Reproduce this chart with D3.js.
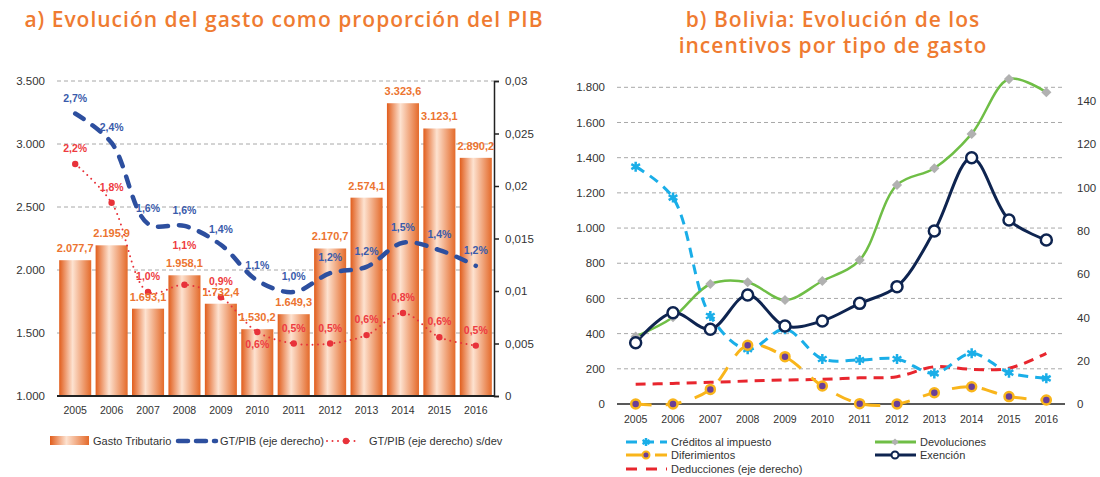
<!DOCTYPE html>
<html>
<head>
<meta charset="utf-8">
<title>Gasto tributario - Bolivia</title>
<script src="https://d3js.org/d3.v7.min.js"></script>
<style>
body { margin: 0; background: #fff; }
text { font-family: "Liberation Sans", Arial, sans-serif; }
.title { font-family: "Open Sans", sans-serif; font-weight: 600; fill: #ef7b31; letter-spacing: 1px; }
</style>
</head>
<body>
<svg id="chart" width="1100" height="477"></svg>
<script>
// ---- data (a) ----
var years = ["2005","2006","2007","2008","2009","2010","2011","2012","2013","2014","2015","2016"];
var gasto = [2077.7, 2195.9, 1693.1, 1958.1, 1732.4, 1530.2, 1649.3, 2170.7, 2574.1, 3323.6, 3123.1, 2890.2];
var gtPib = [0.0269, 0.0241, 0.0164, 0.0162, 0.0144, 0.0110, 0.0099, 0.0117, 0.0123, 0.0146, 0.0139, 0.0124];
var gtPibSdev = [0.0221, 0.0184, 0.0099, 0.0106, 0.0094, 0.0061, 0.0050, 0.0050, 0.0058, 0.0079, 0.0056, 0.0048];
var leftTicksA = [1000, 1500, 2000, 2500, 3000, 3500];
var rightTicksA = [0, 0.005, 0.01, 0.015, 0.02, 0.025, 0.03];

// ---- data (b) ----
var creditos = [1349, 1173, 500, 311, 425, 256, 250, 256, 174, 288, 178, 146];
var devoluciones = [383, 493, 682, 692, 591, 699, 818, 1245, 1340, 1535, 1847, 1772];
var exencion = [348, 519, 425, 620, 443, 472, 572, 667, 983, 1400, 1046, 932];
var diferimientos = [0, 0, 83, 334, 269, 102, 2, 0, 64, 98, 42, 23];
var deducciones = [9.1, 9.5, 10.0, 10.6, 11.1, 11.4, 12.1, 12.6, 17.2, 16.0, 16.5, 23.4];
var leftTicksB = [0, 200, 400, 600, 800, 1000, 1200, 1400, 1600, 1800];
var rightTicksB = [0, 20, 40, 60, 80, 100, 120, 140];

var es = d3.formatLocale({decimal: ",", thousands: ".", grouping: [3], currency: ["", ""]});
var fmtBar = es.format(",.1f");
var fmtInt = es.format(",.0f");
var fmtPct = es.format(".1%");
var fmtSmall = es.format("~g");

var svg = d3.select("#chart");
svg.append("rect").attr("width", 1100).attr("height", 477).attr("fill", "#fff");

var defs = svg.append("defs");
var grad = defs.append("linearGradient").attr("id", "barGrad")
	.attr("x1", "0%").attr("x2", "100%").attr("y1", "0%").attr("y2", "0%");
grad.append("stop").attr("offset", "0%").attr("stop-color", "#e15d1c");
grad.append("stop").attr("offset", "42%").attr("stop-color", "#fde2d0");
grad.append("stop").attr("offset", "100%").attr("stop-color", "#e46a2a");

// titles
svg.append("text").attr("class", "title").attr("x", 284).attr("y", 27)
	.attr("text-anchor", "middle").attr("font-size", 21)
	.text("a) Evolución del gasto como proporción del PIB");
svg.append("text").attr("class", "title").attr("x", 833).attr("y", 27)
	.attr("text-anchor", "middle").attr("font-size", 21)
	.text("b) Bolivia: Evolución de los");
svg.append("text").attr("class", "title").attr("x", 833).attr("y", 53)
	.attr("text-anchor", "middle").attr("font-size", 21)
	.text("incentivos por tipo de gasto");

// ================= chart a =================
var xA = d3.scaleBand().domain(years).range([57, 494]).paddingInner(0.12).paddingOuter(0.06);
var yA = d3.scaleLinear().domain([1000, 3500]).range([396, 81]);
var yAR = d3.scaleLinear().domain([0, 0.03]).range([396, 81]);

var gA = svg.append("g");

// gridlines
gA.append("g").selectAll("line").data(leftTicksA.slice(1)).enter().append("line")
	.attr("x1", 57).attr("x2", 494)
	.attr("y1", function (d) { return yA(d); }).attr("y2", function (d) { return yA(d); })
	.attr("stroke", "#a8a8a8").attr("stroke-width", 1).attr("stroke-dasharray", "4,3");

// left axis labels (no line)
var axL = gA.append("g").attr("transform", "translate(57,0)")
	.call(d3.axisLeft(yA).tickValues(leftTicksA).tickFormat(fmtInt).tickSize(0).tickPadding(12));
axL.select(".domain").remove();
axL.selectAll("text").attr("font-size", 11.5).attr("fill", "#333").attr("font-family", "Liberation Sans, Arial, sans-serif");

// bars
gA.append("g").selectAll("rect").data(gasto).enter().append("rect")
	.attr("x", function (d, i) { return xA(years[i]); })
	.attr("width", xA.bandwidth())
	.attr("y", function (d) { return yA(d); })
	.attr("height", function (d) { return 396 - yA(d); })
	.attr("fill", "url(#barGrad)");

// baseline
gA.append("line").attr("x1", 57).attr("x2", 494).attr("y1", 396).attr("y2", 396)
	.attr("stroke", "#222").attr("stroke-width", 2);

// right axis
var axR = gA.append("g").attr("transform", "translate(494,0)")
	.call(d3.axisRight(yAR).tickValues(rightTicksA).tickFormat(fmtSmall).tickSize(5).tickPadding(6));
axR.select(".domain").attr("stroke", "#222").attr("stroke-width", 1.5);
axR.selectAll(".tick line").attr("stroke", "#222").attr("stroke-width", 1.5);
axR.selectAll("text").attr("font-size", 11.5).attr("fill", "#333").attr("font-family", "Liberation Sans, Arial, sans-serif");

// x labels
gA.append("g").selectAll("text").data(years).enter().append("text")
	.attr("x", function (d) { return xA(d) + xA.bandwidth() / 2; })
	.attr("y", 414).attr("text-anchor", "middle").attr("font-size", 10.5).attr("fill", "#333")
	.text(function (d) { return d; });

var cx = function (d, i) { return xA(years[i]) + xA.bandwidth() / 2; };

// red dotted line
var lineRed = d3.line().x(cx).y(function (d) { return yAR(d); }).curve(d3.curveCatmullRom);
gA.append("path").datum(gtPibSdev).attr("d", lineRed)
	.attr("fill", "none").attr("stroke", "#e8323a").attr("stroke-width", 2)
	.attr("stroke-linecap", "round").attr("stroke-dasharray", "0,5.5");
gA.append("g").selectAll("circle").data(gtPibSdev).enter().append("circle")
	.attr("cx", cx).attr("cy", function (d) { return yAR(d); }).attr("r", 3.2)
	.attr("fill", "#e8323a");

// blue dashed line
var lineBlue = d3.line().x(cx).y(function (d) { return yAR(d); }).curve(d3.curveCatmullRom);
gA.append("path").datum(gtPib).attr("d", lineBlue)
	.attr("fill", "none").attr("stroke", "#2d4f9f").attr("stroke-width", 4.5)
	.attr("stroke-linecap", "round").attr("stroke-dasharray", "10,11");

// bar labels
gA.append("g").selectAll("text").data(gasto).enter().append("text")
	.attr("x", cx).attr("y", function (d) { return yA(d) - 8; })
	.attr("text-anchor", "middle").attr("font-size", 11).attr("font-weight", "bold")
	.attr("fill", "#ec7430")
	.text(function (d) { return fmtBar(d); });

// percent labels
gA.append("g").selectAll("text").data(gtPib).enter().append("text")
	.attr("x", cx).attr("y", function (d) { return yAR(d) - 12; })
	.attr("text-anchor", "middle").attr("font-size", 10.5).attr("font-weight", "bold")
	.attr("fill", "#3a5bab")
	.text(function (d) { return fmtPct(d); });

// red labels: move out of the way of the bar labels when the point sits at a bar top
function redLabelY(d, i) {
	var p = yAR(d), top = yA(gasto[i]), diff = p - top;
	if (diff > -4 && diff < 6) return p + 16;
	if (diff >= 6 && diff < 14) return top - 26;
	return p - 12;
}
gA.append("g").selectAll("text").data(gtPibSdev).enter().append("text")
	.attr("x", cx).attr("y", redLabelY)
	.attr("text-anchor", "middle").attr("font-size", 10.5).attr("font-weight", "bold")
	.attr("fill", "#ee3b41")
	.text(function (d) { return fmtPct(d); });

// legend a
var legA = svg.append("g");
legA.append("rect").attr("x", 50).attr("y", 436).attr("width", 39).attr("height", 9).attr("fill", "url(#barGrad)");
legA.append("text").attr("x", 93).attr("y", 445).attr("font-size", 11).attr("fill", "#333").text("Gasto Tributario");
legA.append("line").attr("x1", 178).attr("x2", 216).attr("y1", 441).attr("y2", 441)
	.attr("stroke", "#2d4f9f").attr("stroke-width", 4.5).attr("stroke-linecap", "round").attr("stroke-dasharray", "10,8");
legA.append("text").attr("x", 220).attr("y", 445).attr("font-size", 11).attr("fill", "#333").text("GT/PIB (eje derecho)");
legA.append("line").attr("x1", 327).attr("x2", 360).attr("y1", 441).attr("y2", 441)
	.attr("stroke", "#e8323a").attr("stroke-width", 2).attr("stroke-linecap", "round").attr("stroke-dasharray", "0,5.5");
legA.append("circle").attr("cx", 346).attr("cy", 441).attr("r", 3.2).attr("fill", "#e8323a");
legA.append("text").attr("x", 369).attr("y", 445).attr("font-size", 11).attr("fill", "#333").text("GT/PIB (eje derecho) s/dev");

// ================= chart b =================
var xB = d3.scalePoint().domain(years).range([617, 1065]).padding(0.5);
var yB = d3.scaleLinear().domain([0, 1800]).range([404, 87.3]);
var yBR = d3.scaleLinear().domain([0, 140]).range([404, 100.7]);

var gB = svg.append("g");

gB.append("g").selectAll("line").data(leftTicksB.slice(1)).enter().append("line")
	.attr("x1", 617).attr("x2", 1065)
	.attr("y1", function (d) { return yB(d); }).attr("y2", function (d) { return yB(d); })
	.attr("stroke", "#a8a8a8").attr("stroke-width", 1).attr("stroke-dasharray", "4,3");

var axBL = gB.append("g").attr("transform", "translate(617,0)")
	.call(d3.axisLeft(yB).tickValues(leftTicksB).tickFormat(fmtInt).tickSize(0).tickPadding(12));
axBL.select(".domain").remove();
axBL.selectAll("text").attr("font-size", 11.5).attr("fill", "#333").attr("font-family", "Liberation Sans, Arial, sans-serif");

var axBR = gB.append("g").attr("transform", "translate(1065,0)")
	.call(d3.axisRight(yBR).tickValues(rightTicksB).tickFormat(fmtInt).tickSize(0).tickPadding(12));
axBR.select(".domain").remove();
axBR.selectAll("text").attr("font-size", 11.5).attr("fill", "#333").attr("font-family", "Liberation Sans, Arial, sans-serif");

gB.append("line").attr("x1", 617).attr("x2", 1065).attr("y1", 404).attr("y2", 404)
	.attr("stroke", "#222").attr("stroke-width", 1.5);

gB.append("g").selectAll("text").data(years).enter().append("text")
	.attr("x", function (d) { return xB(d); })
	.attr("y", 423).attr("text-anchor", "middle").attr("font-size", 10.5).attr("fill", "#333")
	.text(function (d) { return d; });

var bx = function (d, i) { return xB(years[i]); };
function lineB(scale) {
	return d3.line().x(bx).y(function (d) { return scale(d); }).curve(d3.curveCatmullRom);
}

// deducciones (right axis)
gB.append("path").datum(deducciones).attr("d", lineB(yBR))
	.attr("fill", "none").attr("stroke", "#e8262e").attr("stroke-width", 3).attr("stroke-dasharray", "10,7");

// diferimientos
gB.append("path").datum(diferimientos).attr("d", lineB(yB))
	.attr("fill", "none").attr("stroke", "#f9b51b").attr("stroke-width", 3).attr("stroke-dasharray", "16,14");

// devoluciones
gB.append("path").datum(devoluciones).attr("d", lineB(yB))
	.attr("fill", "none").attr("stroke", "#6fbe46").attr("stroke-width", 2.5);

// creditos
gB.append("path").datum(creditos).attr("d", lineB(yB))
	.attr("fill", "none").attr("stroke", "#1aaee8").attr("stroke-width", 3).attr("stroke-dasharray", "10,7");

// exencion
gB.append("path").datum(exencion).attr("d", lineB(yB))
	.attr("fill", "none").attr("stroke", "#0e2450").attr("stroke-width", 3);

// markers
gB.append("g").selectAll("path").data(devoluciones).enter().append("path")
	.attr("d", d3.symbol().type(d3.symbolSquare).size(52))
	.attr("transform", function (d, i) { return "translate(" + bx(d, i) + "," + yB(d) + ") rotate(45)"; })
	.attr("fill", "#b1b1b1");
gB.append("g").selectAll("path").data(creditos).enter().append("path")
	.attr("d", d3.symbol().type(d3.symbolAsterisk).size(70))
	.attr("transform", function (d, i) { return "translate(" + bx(d, i) + "," + yB(d) + ")"; })
	.attr("fill", "none").attr("stroke", "#1aaee8").attr("stroke-width", 2.5);
gB.append("g").selectAll("circle").data(diferimientos).enter().append("circle")
	.attr("cx", bx).attr("cy", function (d) { return yB(d); }).attr("r", 4.5)
	.attr("fill", "#6a3f98").attr("stroke", "#f9b51b").attr("stroke-width", 2.5);
gB.append("g").selectAll("circle").data(exencion).enter().append("circle")
	.attr("cx", bx).attr("cy", function (d) { return yB(d); }).attr("r", 5.5)
	.attr("fill", "#fff").attr("stroke", "#0e2450").attr("stroke-width", 2.5);

// legend b
var legB = svg.append("g");
function legItem(x, y, label, stroke, dash, width) {
	legB.append("line").attr("x1", x).attr("x2", x + 41).attr("y1", y).attr("y2", y)
		.attr("stroke", stroke).attr("stroke-width", width).attr("stroke-dasharray", dash);
	legB.append("text").attr("x", x + 45).attr("y", y + 4).attr("font-size", 11).attr("fill", "#333").text(label);
}
legItem(626, 442, "Créditos al impuesto", "#1aaee8", "11,6", 3);
legB.append("path").attr("d", d3.symbol().type(d3.symbolAsterisk).size(45))
	.attr("transform", "translate(646,442)").attr("fill", "none").attr("stroke", "#1aaee8").attr("stroke-width", 2.5);
legItem(626, 455, "Diferimientos", "#f9b51b", "20,9", 3);
legB.append("circle").attr("cx", 646).attr("cy", 455).attr("r", 3.5)
	.attr("fill", "#6a3f98").attr("stroke", "#f9b51b").attr("stroke-width", 2);
legItem(626, 469, "Deducciones (eje derecho)", "#e8262e", "11,9", 3);
legItem(875, 442, "Devoluciones", "#6fbe46", null, 3);
legB.append("path").attr("d", d3.symbol().type(d3.symbolSquare).size(26))
	.attr("transform", "translate(895,442) rotate(45)").attr("fill", "#b1b1b1");
legItem(875, 455, "Exención", "#0e2450", null, 3);
legB.append("circle").attr("cx", 895).attr("cy", 455).attr("r", 3.5)
	.attr("fill", "#fff").attr("stroke", "#0e2450").attr("stroke-width", 2);
</script>
</body>
</html>
